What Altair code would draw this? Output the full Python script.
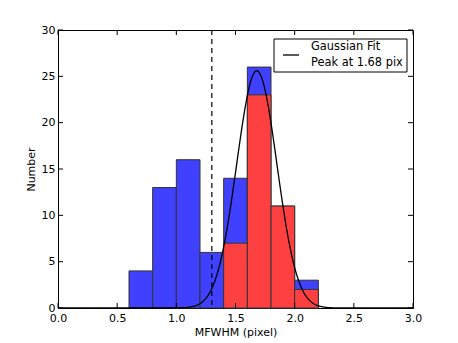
import altair as alt
import numpy as np
import pandas as pd

# Histogram data
bin_left = [0.6, 0.8, 1.0, 1.2, 1.4, 1.6, 1.8, 2.0]
bin_width = 0.2
blue_counts = [4, 13, 16, 6, 14, 26, 11, 3]
red_left = [1.4, 1.6, 1.8, 2.0]
red_counts = [7, 23, 11, 2]

# Gaussian fit parameters
g_amp = 25.6
g_mu = 1.68
g_sigma = 0.17

cut_x = [1.3]
x_ticks = [0.0, 0.5, 1.0, 1.5, 2.0, 2.5, 3.0]
y_ticks = [0, 5, 10, 15, 20, 25, 30]

W, H = 355, 278
FONT = "DejaVu Sans"

blue_df = pd.DataFrame({"x0": bin_left, "x1": [b + bin_width for b in bin_left], "n": blue_counts})
red_df = pd.DataFrame({"x0": red_left, "x1": [b + bin_width for b in red_left], "n": red_counts})
gx = np.linspace(0, 3, 601)
g_df = pd.DataFrame({"x": gx, "y": g_amp * np.exp(-(gx - g_mu) ** 2 / (2 * g_sigma ** 2))})

xs = alt.Scale(domain=[0, 3], nice=False, zero=False)
ys = alt.Scale(domain=[0, 30], nice=False)

xaxis = alt.Axis(values=x_ticks, format=".1f", title="MFWHM (pixel)", tickSize=0, labelPadding=4,
                 grid=False, domain=False, labelFont=FONT, labelFontSize=11, titleFont=FONT,
                 titleFontSize=11, titleFontWeight="normal", labelColor="black", titleColor="black",
                 titlePadding=3, labelFlush=False)
yaxis = alt.Axis(values=y_ticks, title="Number", tickSize=0, labelPadding=3, grid=False, domain=False,
                 labelFont=FONT, labelFontSize=11, titleFont=FONT, titleFontSize=11,
                 titleFontWeight="normal", labelColor="black", titleColor="black", titlePadding=5,
                 labelFlush=False)

blue = alt.Chart(blue_df).mark_rect(color="#4040ff", stroke="#333333", strokeWidth=1).encode(
    x=alt.X("x0:Q", scale=xs, axis=xaxis), x2="x1", y=alt.Y("n:Q", scale=ys, axis=yaxis), y2=alt.datum(0))
red = alt.Chart(red_df).mark_rect(color="#ff4040", stroke="#333333", strokeWidth=1).encode(
    x=alt.X("x0:Q", scale=xs), x2="x1", y=alt.Y("n:Q", scale=ys), y2=alt.datum(0))
curve = alt.Chart(g_df).mark_line(color="black", strokeWidth=1.3).encode(
    x=alt.X("x:Q", scale=xs), y=alt.Y("y:Q", scale=ys))
cut = alt.Chart(pd.DataFrame({"x": cut_x})).mark_rule(color="black", strokeDash=[5, 4], strokeWidth=1.2).encode(
    x=alt.X("x:Q", scale=xs))

xt = pd.DataFrame({"x": x_ticks})
yt = pd.DataFrame({"y": y_ticks})
xtick_b = alt.Chart(xt).mark_rule(color="black").encode(x=alt.X("x:Q", scale=xs), y=alt.value(H), y2=alt.value(H - 5))
xtick_t = alt.Chart(xt).mark_rule(color="black").encode(x=alt.X("x:Q", scale=xs), y=alt.value(0), y2=alt.value(5))
ytick_l = alt.Chart(yt).mark_rule(color="black").encode(y=alt.Y("y:Q", scale=ys), x=alt.value(0), x2=alt.value(5))
ytick_r = alt.Chart(yt).mark_rule(color="black").encode(y=alt.Y("y:Q", scale=ys), x=alt.value(W), x2=alt.value(W - 5))

leg_box = alt.Chart(pd.DataFrame({"a": [0]})).mark_rect(fill="white", stroke="black", strokeWidth=1).encode(
    x=alt.value(216), x2=alt.value(349), y=alt.value(9), y2=alt.value(42))
leg_line = alt.Chart(pd.DataFrame({"a": [0]})).mark_rule(color="black", strokeWidth=1.3).encode(
    x=alt.value(225), x2=alt.value(241), y=alt.value(25))
leg_text = alt.Chart(pd.DataFrame({"t": ["Gaussian Fit", "Peak at 1.68 pix"], "yy": [17, 33]})).mark_text(
    align="left", baseline="middle", font=FONT, fontSize=11.4, color="black").encode(
    text="t:N", x=alt.value(253), y=alt.Y("yy:Q", scale=None))

chart = alt.layer(blue, red, curve, cut, xtick_b, xtick_t, ytick_l, ytick_r, leg_box, leg_line, leg_text).properties(
    width=W, height=H, padding={"left": 50, "top": 22, "right": 20, "bottom": 40}, autosize="none",
    background="white"
).configure_view(stroke="black", strokeWidth=1)

chart.save("out.html", embed_options={"renderer": "svg", "actions": False})
